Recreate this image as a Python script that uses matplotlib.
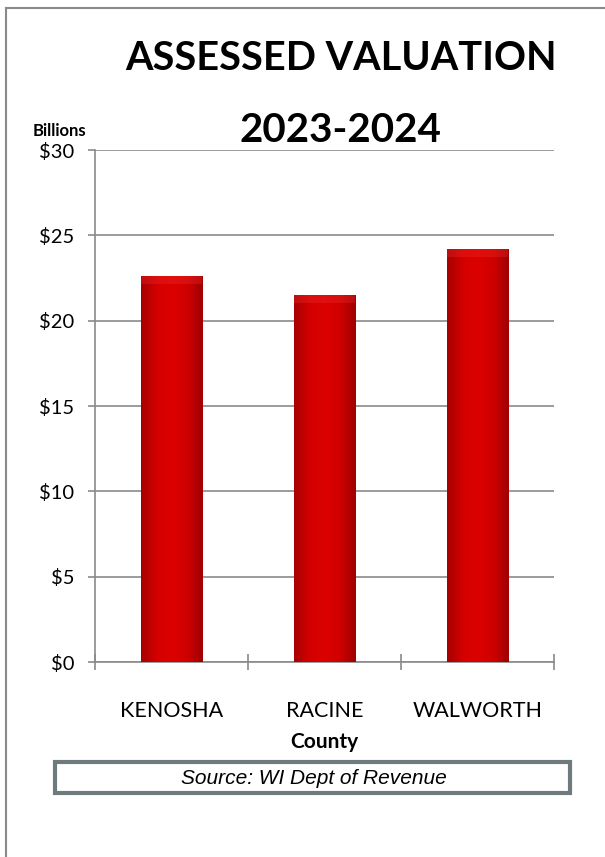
import numpy as np
import matplotlib.pyplot as plt
from matplotlib.patches import Rectangle
from matplotlib.colors import LinearSegmentedColormap

counties = ['KENOSHA', 'RACINE', 'WALWORTH']
valuation = [22.6, 21.5, 24.2]  # billions of dollars
yticks = [0, 5, 10, 15, 20, 25, 30]
ytick_labels = ['$0', '$5', '$10', '$15', '$20', '$25', '$30']

plt.rcParams['font.family'] = ['Lato', 'DejaVu Sans']
grey = '#8a8a8a'

fig = plt.figure(figsize=(6.05, 8.57), dpi=100)
ax = fig.add_axes([95 / 605, 1 - 662 / 857, (554 - 95) / 605, (662 - 150) / 857])

x = np.arange(len(counties))
bars = ax.bar(x, valuation, width=0.4, color='#cc0000', edgecolor='#7a0000',
              linewidth=0.6, zorder=3)

# shaded fill so the bars look rounded
shade = LinearSegmentedColormap.from_list(
    'shade', ['#a80000', '#d40000', '#dc0000', '#cf0000', '#a00000'])
grad = np.linspace(0, 1, 64).reshape(1, -1)
for b in bars:
    x0, w, h = b.get_x(), b.get_width(), b.get_height()
    im = ax.imshow(grad, cmap=shade, aspect='auto', zorder=3.5,
                   extent=(x0, x0 + w, 0, h))
    im.set_clip_path(b)
    ax.add_patch(Rectangle((x0, h - 0.45), w, 0.45, color='#f03030',
                           alpha=0.3, lw=0, zorder=3.6))

ax.set_xlim(-0.5, 2.5)
ax.set_ylim(0, 30)
ax.set_yticks(yticks)
ax.set_yticklabels(ytick_labels, fontsize=14.5)
ax.yaxis.grid(True, color=grey, linewidth=1.2, zorder=0)
ax.set_axisbelow(True)

ax.set_xticks(x)
ax.set_xticklabels(counties, fontsize=15.5)
ax.set_xticks(np.arange(-0.5, 3, 1), minor=True)
ax.tick_params(axis='x', which='major', length=0, pad=28)
ax.tick_params(axis='x', which='minor', direction='inout', length=12,
               width=1.2, color=grey)
ax.tick_params(axis='y', direction='out', length=5, width=1.2, color=grey, pad=10)
ax.set_xlabel('County', fontsize=15, fontweight='bold', labelpad=8)

for side in ['top', 'right']:
    ax.spines[side].set_visible(False)
for side in ['left', 'bottom']:
    ax.spines[side].set_color(grey)
    ax.spines[side].set_linewidth(1.2)

fig.text(0.564, 1 - 58 / 857, 'ASSESSED VALUATION', ha='center', va='center',
         fontsize=28.5, fontweight='bold')
fig.text(0.562, 1 - 130 / 857, '2023-2024', ha='center', va='center',
         fontsize=29, fontweight='bold')
fig.text(59 / 605, 1 - 131 / 857, 'Billions', ha='center', va='center',
         fontsize=12, fontweight='bold')

# outer frame (left and top edges)
fig.add_artist(plt.Line2D([6 / 605, 6 / 605], [0, 1 - 8 / 857],
                          color=grey, linewidth=1.5))
fig.add_artist(plt.Line2D([6 / 605, 1], [1 - 8 / 857, 1 - 8 / 857],
                          color=grey, linewidth=1.5))

# source box
fig.add_artist(Rectangle((55 / 605, 1 - 793 / 857), (570 - 55) / 605, 31 / 857,
                         transform=fig.transFigure, facecolor='white',
                         edgecolor='#6e7a7e', linewidth=3))
fig.text(314 / 605, 1 - 778 / 857, 'Source: WI Dept of Revenue', ha='center',
         va='center', fontsize=15, style='italic', family='Liberation Sans')

fig.savefig('out.png', dpi=100)
